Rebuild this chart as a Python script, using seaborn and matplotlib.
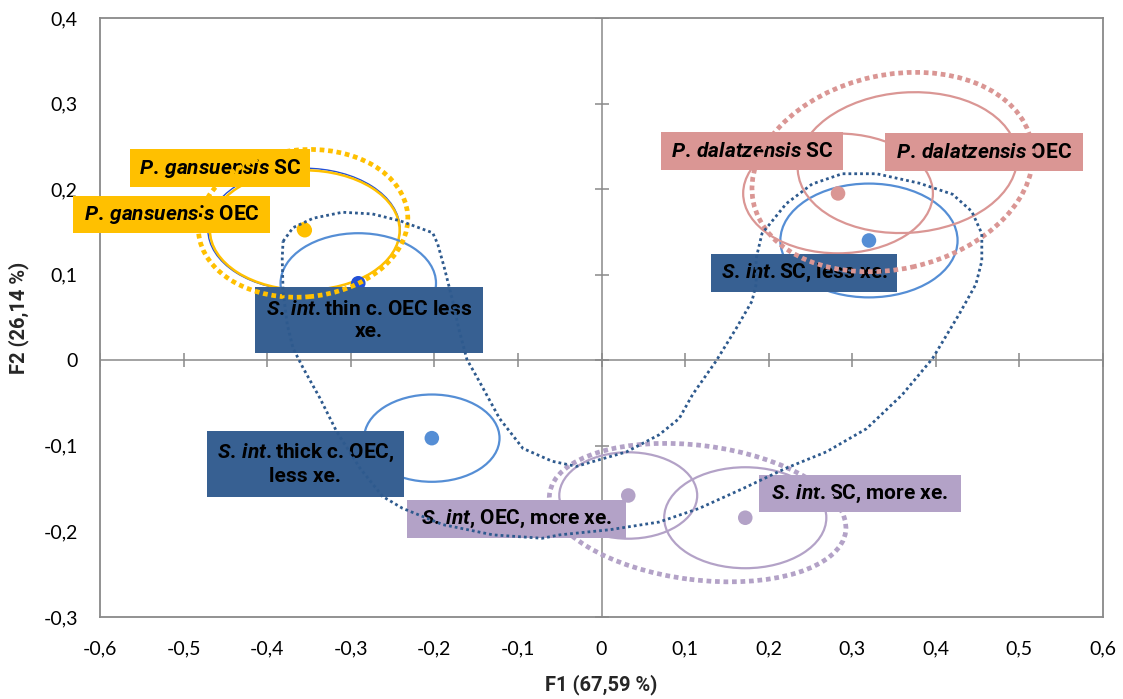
import matplotlib
matplotlib.use("Agg")
import numpy as np
import pandas as pd
import seaborn as sns
import matplotlib.pyplot as plt
from matplotlib.patches import Ellipse, Rectangle
from matplotlib.ticker import FuncFormatter, MultipleLocator

# ---------------- data ----------------
groups = ["P. gansuensis SC", "P. gansuensis OEC", "S. int. thin c. OEC less xe.",
          "S. int. thick c. OEC, less xe.", "S. int. SC, less xe.", "P. dalatzensis SC",
          "P. dalatzensis OEC", "S. int. OEC, more xe.", "S. int. SC, more xe."]
f1 = [-0.356, -0.355, -0.291, -0.203, 0.320, 0.283, 0.366, 0.032, 0.172]
f2 = [0.153, 0.152, 0.090, -0.091, 0.140, 0.195, 0.231, -0.158, -0.184]

# confidence ellipses around each point (width, height in F1/F2 units, angle in degrees)
ell_w = [0.230, 0.227, 0.186, 0.162, 0.212, 0.227, 0.263, 0.165, 0.194]
ell_h = [0.143, 0.140, 0.117, 0.102, 0.133, 0.140, 0.164, 0.101, 0.118]
ell_a = [0, 0, 0, 0, 0, 0, 4, 0, 0]

# group ellipses (dotted): P. gansuensis, P. dalatzensis, S. int. more xe.
grp_x = [-0.357, 0.348, 0.115]
grp_y = [0.160, 0.220, -0.178]
grp_w = [0.251, 0.340, 0.357]
grp_h = [0.172, 0.227, 0.157]
grp_a = [5, 12, -7]

# envelope of S. int. less xerophytic group (dotted)
hull_x = [-0.381, -0.369, -0.345, -0.310, -0.274, -0.241, -0.202, -0.196, -0.188, -0.179,
          -0.170, -0.161, -0.146, -0.122, -0.094, -0.059, -0.030, -0.002, 0.030, 0.069,
          0.093, 0.109, 0.137, 0.161, 0.180, 0.185, 0.185, 0.192, 0.221, 0.252,
          0.288, 0.329, 0.380, 0.420, 0.443, 0.455, 0.455, 0.448, 0.428, 0.396,
          0.360, 0.317, 0.269, 0.221, 0.169, 0.117, 0.069, 0.010, -0.050, -0.071,
          -0.130, -0.190, -0.238, -0.262, -0.289, -0.317, -0.337, -0.357, -0.369, -0.376,
          -0.381, -0.382, -0.381]
hull_y = [0.139, 0.155, 0.166, 0.173, 0.171, 0.163, 0.149, 0.136, 0.108, 0.073,
          0.034, 0.001, -0.025, -0.068, -0.103, -0.118, -0.124, -0.116, -0.107, -0.087,
          -0.068, -0.040, -0.001, 0.037, 0.069, 0.089, 0.119, 0.148, 0.183, 0.206,
          0.218, 0.218, 0.207, 0.194, 0.174, 0.148, 0.116, 0.089, 0.054, 0.002,
          -0.040, -0.080, -0.107, -0.126, -0.150, -0.173, -0.189, -0.198, -0.204, -0.208,
          -0.204, -0.192, -0.173, -0.159, -0.126, -0.083, -0.044, -0.009, 0.014, 0.042,
          0.081, 0.119, 0.139]

label_text = [
    r"$\mathit{P.\,gansuensis}$ SC",
    r"$\mathit{P.\,gansuensis}$ OEC",
    "$\\mathit{S.\\,int.}$thin c. OEC less\nxe.",
    "$\\mathit{S.\\,int.}$thick c. OEC,\nless xe.",
    r"$\mathit{S.\,int}$, OEC, more xe.",
    r"$\mathit{S.\,int.}$SC, more xe.",
    r"$\mathit{S.\,int.}$SC, less xe.",
    r"$\mathit{P.\,dalatzensis}$ SC",
    r"$\mathit{P.\,dalatzensis}$ OEC",
]
# label boxes (x0, x1, y0, y1 in F1/F2 units)
box_x0 = [-0.5641, -0.6327, -0.4146, -0.4720, -0.2327, 0.1884, 0.1316, 0.0712, 0.3392]
box_x1 = [-0.3488, -0.3961, -0.1418, -0.2363, 0.0293, 0.4300, 0.3535, 0.2889, 0.5761]
box_y0 = [0.2022, 0.1484, 0.0082, -0.1601, -0.2081, -0.1776, 0.0795, 0.2220, 0.2209]
box_y1 = [0.2466, 0.1917, 0.0853, -0.0830, -0.1636, -0.1344, 0.1239, 0.2665, 0.2653]

x_ticks = [-0.6, -0.5, -0.4, -0.3, -0.2, -0.1, 0.0, 0.1, 0.2, 0.3, 0.4, 0.5, 0.6]
y_ticks = [-0.3, -0.2, -0.1, 0.0, 0.1, 0.2, 0.3, 0.4]

# ---------------- styles ----------------
YEL = "#FFC000"
BLU = "#558ED5"
DBLU = "#2350D6"
PNK = "#DA9694"
PUR = "#B3A2C7"
NAVY = "#376092"
HULL = "#2E5A8E"
GRID = "#898989"
BOLD_FAMILY = ["Roboto", "DejaVu Sans"]

point_col = [YEL, YEL, DBLU, BLU, BLU, PNK, PNK, PUR, PUR]
ell_col = [DBLU, YEL, BLU, BLU, BLU, PNK, PNK, PUR, PUR]
ell_lw = [1.0, 1.8, 1.6, 1.6, 1.6, 1.6, 1.6, 1.6, 1.6]
grp_col = [YEL, PNK, PUR]
box_col = [YEL, YEL, NAVY, NAVY, PUR, PUR, NAVY, PNK, PNK]

sns.set_theme(style="white")
plt.rcParams["font.family"] = ["Lato", "DejaVu Sans"]
plt.rcParams["mathtext.fontset"] = "custom"
plt.rcParams["mathtext.rm"] = "Roboto:bold"
plt.rcParams["mathtext.it"] = "Roboto:italic:bold"
plt.rcParams["mathtext.bf"] = "Roboto:bold"

fig = plt.figure(figsize=(11.23, 6.99), dpi=100)
ax = fig.add_axes([100 / 1123, 1 - 617 / 699, 1003 / 1123, 599 / 699])
ax.set_xlim(-0.6, 0.6)
ax.set_ylim(-0.3, 0.4)

# zero axes with cross ticks
ax.axhline(0, color=GRID, lw=1.1, zorder=1)
ax.axvline(0, color=GRID, lw=1.1, zorder=1)
ax.plot(x_ticks, [0] * len(x_ticks), ls="none", marker="|", ms=10, mew=1.1, color=GRID, zorder=1)
ax.plot([0] * len(y_ticks), y_ticks, ls="none", marker="_", ms=10, mew=1.1, color=GRID, zorder=1)

# point ellipses
for i in range(len(groups)):
    ax.add_patch(Ellipse((f1[i], f2[i]), ell_w[i], ell_h[i], angle=ell_a[i], fill=False,
                         edgecolor=ell_col[i], lw=ell_lw[i], zorder=2))

# points
df = pd.DataFrame({"F1": f1, "F2": f2, "group": groups})
sns.scatterplot(data=df, x="F1", y="F2", hue="group", palette=dict(zip(groups, point_col)),
                s=110, linewidth=0, legend=False, ax=ax, zorder=3)

# labels
for i in range(len(label_text)):
    ax.add_patch(Rectangle((box_x0[i], box_y0[i]), box_x1[i] - box_x0[i], box_y1[i] - box_y0[i],
                           facecolor=box_col[i], edgecolor="none", zorder=4, clip_on=False))
    ax.text((box_x0[i] + box_x1[i]) / 2, (box_y0[i] + box_y1[i]) / 2, label_text[i],
            ha="center", va="center", fontsize=15, fontweight="bold", family=BOLD_FAMILY,
            color="black", linespacing=1.2, zorder=4.5, clip_on=False)

# dotted group envelopes
for i in range(len(grp_x)):
    ax.add_patch(Ellipse((grp_x[i], grp_y[i]), grp_w[i], grp_h[i], angle=grp_a[i], fill=False,
                         edgecolor=grp_col[i], lw=3.4, linestyle=(0, (1, 0.8)),
                         capstyle="butt", zorder=5))
hull = pd.DataFrame({"x": hull_x, "y": hull_y})
sns.lineplot(data=hull, x="x", y="y", sort=False, estimator=None, color=HULL, lw=2.0,
             ax=ax, zorder=5)
ax.lines[-1].set_linestyle((0, (1, 1.1)))
ax.lines[-1].set_dash_capstyle("butt")

# frame and ticks
for s in ax.spines.values():
    s.set_visible(True)
    s.set_color(GRID)
    s.set_linewidth(1.3)
ax.xaxis.set_major_locator(MultipleLocator(0.1))
ax.yaxis.set_major_locator(MultipleLocator(0.1))
fmt = FuncFormatter(lambda v, p: "0" if abs(v) < 1e-9 else f"{v:.1f}".replace(".", ","))
ax.xaxis.set_major_formatter(fmt)
ax.yaxis.set_major_formatter(fmt)
ax.tick_params(axis="both", length=0, labelsize=14, colors="black")
ax.tick_params(axis="x", pad=17)
ax.tick_params(axis="y", pad=16)
ax.set_xlabel("F1 (67,59 %)", fontsize=14.5, fontweight="bold", family=BOLD_FAMILY, labelpad=12)
ax.set_ylabel("F2 (26,14 %)", fontsize=14.5, fontweight="bold", family=BOLD_FAMILY, labelpad=10)
ax.grid(False)

fig.savefig("out.png", dpi=100)
